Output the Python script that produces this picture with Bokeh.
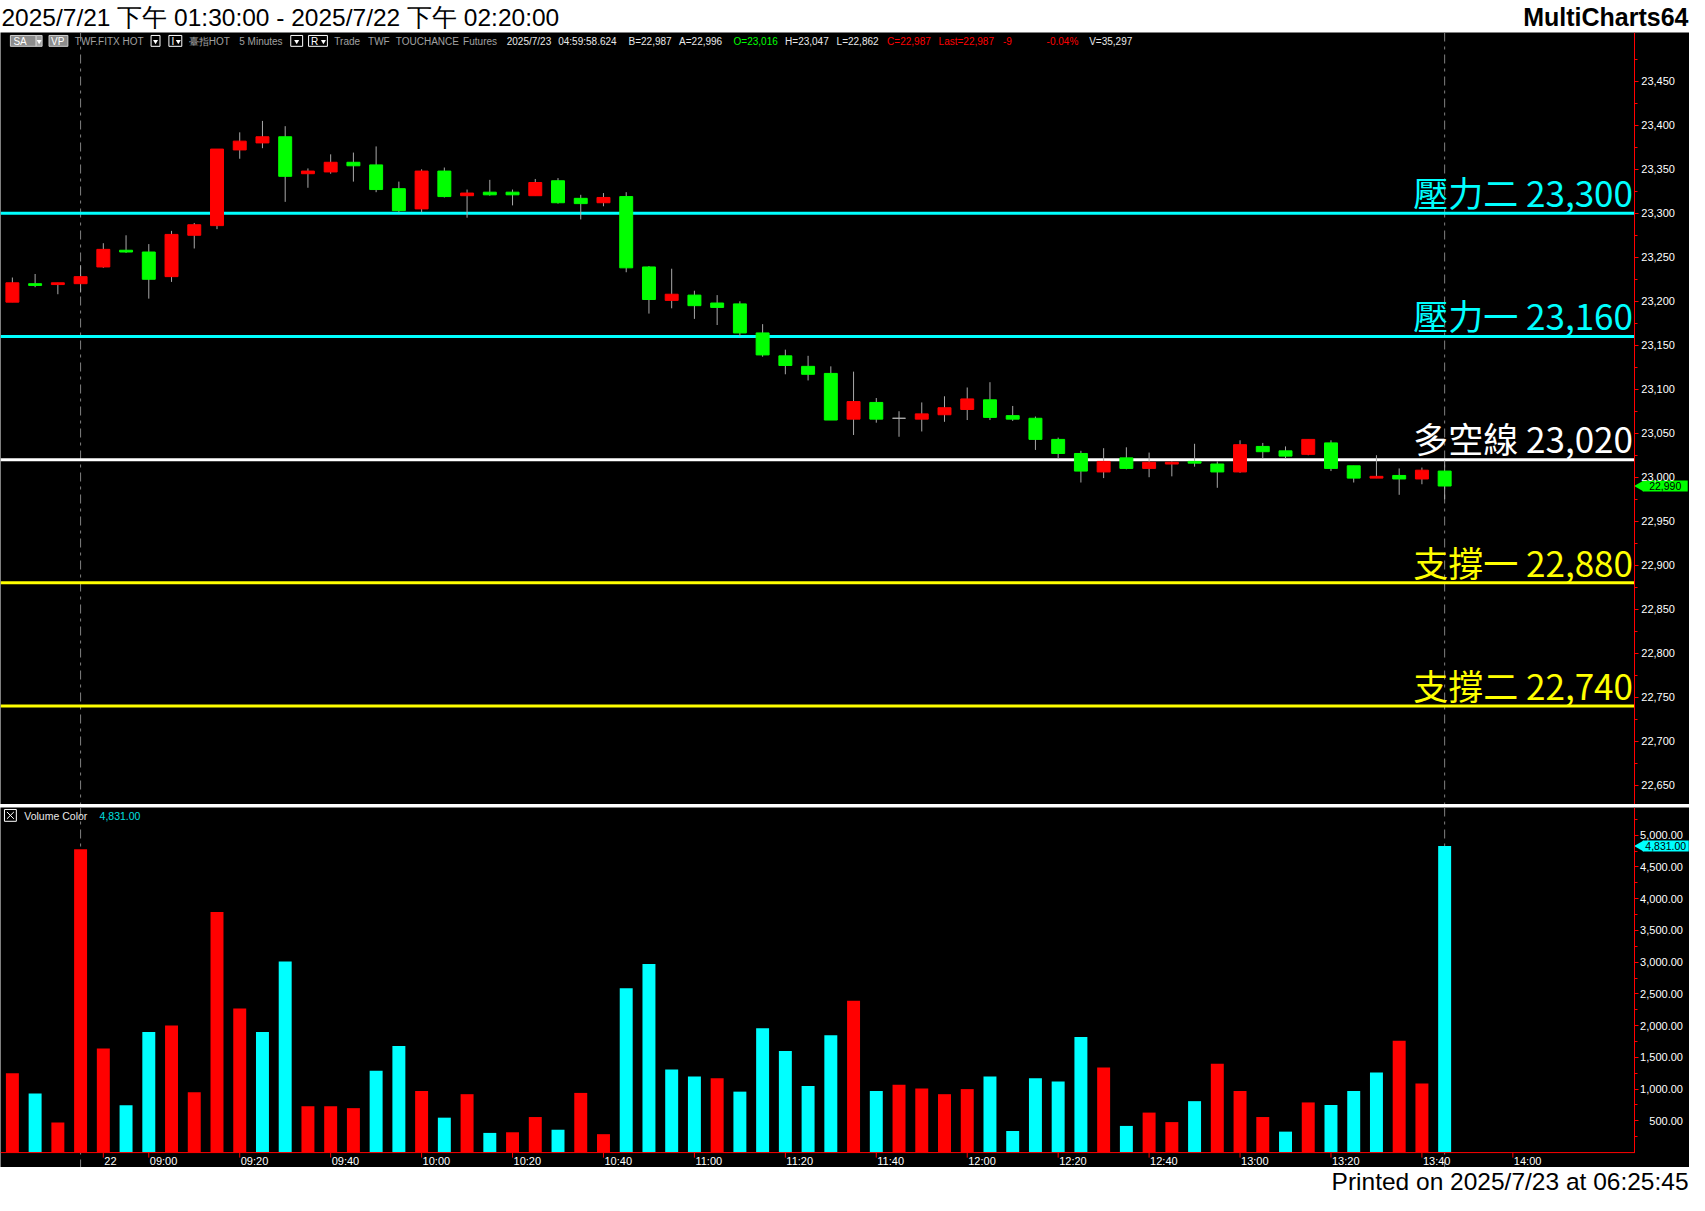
import math
from bokeh.plotting import figure
from bokeh.layouts import column
from bokeh.models import Range1d, Span, FixedTicker, NumeralTickFormatter, LinearAxis
from bokeh.core.properties import value
from bokeh.embed import file_html
from bokeh.resources import INLINE

# ---------------- data (5-minute bars, TWF.FITX HOT) ----------------
opens = [23199, 23220, 23219, 23220, 23239, 23258, 23256, 23228, 23275, 23286,
         23372, 23380, 23387, 23345, 23347, 23358, 23355, 23328, 23305, 23348,
         23320, 23324, 23324, 23320, 23337, 23317, 23312, 23319, 23239, 23201,
         23207, 23198, 23197, 23164, 23138, 23126, 23118, 23066, 23085, 23067,
         23066, 23071, 23077, 23088, 23070, 23067, 23043, 23027, 23006, 23022,
         23010, 23015, 23018, 23015, 23006, 23035, 23030, 23026, 23039, 23013,
         22999, 23002, 22998, 23007]
highs = [23227, 23231, 23221, 23241, 23266, 23275, 23265, 23280, 23289, 23373,
         23392, 23405, 23399, 23351, 23367, 23369, 23376, 23336, 23350, 23352,
         23327, 23338, 23327, 23339, 23340, 23321, 23323, 23324, 23240, 23237,
         23212, 23207, 23200, 23174, 23145, 23138, 23126, 23120, 23090, 23075,
         23085, 23092, 23102, 23108, 23081, 23069, 23045, 23030, 23033, 23034,
         23028, 23018, 23038, 23018, 23042, 23039, 23035, 23043, 23042, 23013,
         23025, 23010, 23011, 23019]
lows = [23199, 23216, 23208, 23210, 23238, 23255, 23203, 23222, 23260, 23282,
        23362, 23374, 23313, 23329, 23345, 23336, 23324, 23301, 23301, 23318,
        23295, 23320, 23309, 23320, 23311, 23293, 23308, 23233, 23186, 23192,
        23180, 23173, 23160, 23137, 23117, 23110, 23065, 23048, 23062, 23046,
        23052, 23063, 23065, 23065, 23064, 23031, 23021, 22994, 22999, 23009,
        23000, 23001, 23012, 22988, 23005, 23021, 23021, 23025, 23007, 22994,
        22999, 22980, 22992, 22975]
closes = [23221, 23218, 23221, 23228, 23259, 23256, 23225, 23276, 23287, 23373,
          23382, 23387, 23342, 23348, 23358, 23354, 23327, 23303, 23348, 23319,
          23323, 23321, 23321, 23335, 23312, 23311, 23318, 23238, 23202, 23208,
          23195, 23193, 23164, 23139, 23127, 23117, 23065, 23086, 23066, 23067,
          23072, 23079, 23089, 23068, 23066, 23043, 23027, 23007, 23018, 23010,
          23017, 23017, 23016, 23006, 23037, 23029, 23024, 23043, 23010, 22999,
          23001, 22998, 23008, 22990]
volumes = [1250, 930, 475, 4780, 1640, 745, 1900, 2000, 950, 3790,
           2270, 1900, 3010, 730, 730, 700, 1290, 1680, 970, 550,
           920, 310, 320, 560, 360, 940, 290, 2590, 2970, 1310,
           1200, 1170, 960, 1960, 1600, 1050, 1850, 2390, 970, 1070,
           1010, 920, 1000, 1200, 340, 1170, 1120, 1820, 1340, 420,
           630, 480, 810, 1400, 970, 560, 330, 790, 750, 970,
           1260, 1760, 1090, 4831]
# volume colour category per bar: R = red, C = cyan
vol_dir = list("RCRRRCCRRRRCCRRRCCRCRCRRCRRCCCCRCCCCCRCRRRRCCCCCRCRRCRRRCRCCCRRC")

level_prices = [23300, 23160, 23020, 22880, 22740]
level_names = ["壓力二", "壓力一", "多空線", "支撐一", "支撐二"]
level_colors = ["#00ffff", "#00ffff", "#ffffff", "#ffff00", "#ffff00"]

time_tick_bars = [4, 6, 10, 14, 18, 22, 26, 30, 34, 38, 42, 46, 50, 54, 58, 62, 66]
time_tick_labels = ["22", "09:00", "09:20", "09:40", "10:00", "10:20", "10:40", "11:00",
                    "11:20", "11:40", "12:00", "12:20", "12:40", "13:00", "13:20", "13:40", "14:00"]
price_ticks = [22650, 22700, 22750, 22800, 22850, 22900, 22950, 23000, 23050,
               23100, 23150, 23200, 23250, 23300, 23350, 23400, 23450]
price_minor = [22625, 22675, 22725, 22775, 22825, 22875, 22925, 22975, 23025, 23075,
               23125, 23175, 23225, 23275, 23325, 23375, 23425, 23475]
vol_ticks = [500, 1000, 1500, 2000, 2500, 3000, 3500, 4000, 4500, 5000]
vol_minor = [250, 750, 1250, 1750, 2250, 2750, 3250, 3750, 4250, 4750, 5250]
session_start_bar = 3
last_price = closes[-1]
last_volume = volumes[-1]

# ---------------- layout constants ----------------
W = 1689
XR = Range1d(-0.523, 73.77)     # frame spans the whole width
AXIS_X = 71.37                  # where the price/volume scale line sits
SANS = "Liberation Sans"
LABEL_LIFT = 24.7               # price units between a level line and the middle of its caption

n = len(opens)
idx = list(range(n))


def base_fig(height, x_range, y_range, bg):
    f = figure(width=W, height=height, x_range=x_range, y_range=y_range,
               x_axis_location=None, y_axis_location=None,
               output_backend="svg", toolbar_location=None,
               background_fill_color=bg, border_fill_color=bg,
               outline_line_color=None, min_border=0)
    f.grid.visible = False
    return f


def scale_axis(ticks, minor, fmt, standoff, bounds="auto"):
    # vertical scale drawn at AXIS_X, labels to its right
    return LinearAxis(fixed_location=AXIS_X, bounds=bounds,
                      ticker=FixedTicker(ticks=ticks, minor_ticks=minor),
                      formatter=NumeralTickFormatter(format=fmt),
                      axis_line_color="#ff0000", major_tick_line_color="#ff0000",
                      minor_tick_line_color="#ff0000", major_tick_in=4, major_tick_out=0,
                      minor_tick_in=3, minor_tick_out=0, major_label_text_color="white",
                      major_label_text_font=SANS, major_label_text_font_size="11px",
                      major_label_standoff=standoff, axis_label=" ",
                      axis_label_standoff=8, axis_label_text_font_size="1px")


# ---------------- header ----------------
head = base_fig(32, Range1d(0, 1705), Range1d(32, 0), "white")
head.text(x=[1], y=[16.5], text=["2025/7/21 下午 01:30:00 - 2025/7/22 下午 02:20:00"],
          text_color="black", text_font=value(SANS), text_font_size="24.5px",
          text_align="left", text_baseline="middle")
head.text(x=[1704], y=[16.5], text=["MultiCharts64"], text_color="black",
          text_font=value(SANS), text_font_style="bold", text_font_size="25px",
          text_align="right", text_baseline="middle")

# ---------------- price panel ----------------
p = base_fig(772, XR, Range1d(22628, 23505.5), "black")
p.extra_x_ranges = {"px": Range1d(0, 1705)}
p.extra_y_ranges = {"py": Range1d(815, 33)}

for b in (session_start_bar, n - 1):
    p.add_layout(Span(location=b, dimension="height", line_color="#808080",
                      line_width=1, line_dash="9 5 3 5", level="underlay"))

p.segment(x0=[XR.start] * len(level_prices), x1=[AXIS_X] * len(level_prices),
          y0=level_prices, y1=level_prices, line_color=level_colors, line_width=3)
p.text(x=[AXIS_X] * len(level_prices), y=[lv + LABEL_LIFT for lv in level_prices],
       text=[f"{nm} {lv:,}" for nm, lv in zip(level_names, level_prices)],
       text_color=level_colors, text_align="right", text_baseline="middle",
       x_offset=-2, text_font=value("Noto Sans CJK TC"), text_font_size="35px")

body_top = [max(o, c) for o, c in zip(opens, closes)]
body_bot = [min(o, c) for o, c in zip(opens, closes)]
ccol = ["#ff0000" if c > o else ("#00ff00" if c < o else "#b0b0b0") for o, c in zip(opens, closes)]
p.segment(x0=idx, x1=idx, y0=lows, y1=highs, line_color="#a8a8a8", line_width=1)
p.vbar(x=idx, top=body_top, bottom=body_bot, width=0.57, fill_color=ccol, line_color=ccol, line_width=1)

p.add_layout(scale_axis(price_ticks, price_minor, "0,0", -40), "left")

# last-price flag
p.scatter(x=[1655.5], y=[last_price], marker="triangle", angle=math.pi / 2, size=11,
          fill_color="#00ff00", line_color=None, x_range_name="px")
p.rect(x=[1680.5], y=[last_price], width=45, height=11, width_units="screen",
       height_units="screen", fill_color="#00ff00", line_color=None, x_range_name="px")
p.text(x=[1680.5], y=[last_price], text=[f"{last_price:,}"], text_color="black",
       text_align="center", text_baseline="middle", text_font=value(SANS),
       text_font_size="10.5px", x_range_name="px")

# status line
boxes_fill = [(10, 36, "#8c8c8c"), (36, 42, "#a0a0a0"), (49, 68, "#8c8c8c")]
p.quad(left=[b[0] for b in boxes_fill], right=[b[1] for b in boxes_fill], top=[36] * 3,
       bottom=[47] * 3, fill_color=[b[2] for b in boxes_fill], line_color="#d0d0d0",
       x_range_name="px", y_range_name="py")
boxes_out = [(152, 161), (170, 183), (293, 305), (311, 330)]
p.quad(left=[b[0] for b in boxes_out], right=[b[1] for b in boxes_out], top=[36] * 4,
       bottom=[47] * 4, fill_color="black", line_color="white",
       x_range_name="px", y_range_name="py")
p.scatter(x=[39, 156.5, 179.5, 299, 326], y=[42] * 5, marker="inverted_triangle", size=5,
          fill_color="white", line_color=None, x_range_name="px", y_range_name="py")
status = [("SA", 13, "white"), ("VP", 51, "white"), ("TWF.FITX HOT", 75, "#a0a0a0"),
          ("I", 172.5, "white"), ("臺指HOT", 190, "#a0a0a0"), ("5 Minutes", 241, "#a0a0a0"),
          ("R", 313.5, "white"), ("Trade", 337, "#a0a0a0"), ("TWF", 371, "#a0a0a0"),
          ("TOUCHANCE", 399, "#a0a0a0"), ("Futures", 467, "#a0a0a0"),
          ("2025/7/23", 511, "#e8e8e8"), ("04:59:58.624", 563, "#e8e8e8"),
          ("B=22,987", 634, "#e8e8e8"), ("A=22,996", 685, "#e8e8e8"),
          ("O=23,016", 740, "#00ff00"), ("H=23,047", 792, "#e8e8e8"),
          ("L=22,862", 844, "#e8e8e8"), ("C=22,987", 895, "#ff0000"),
          ("Last=22,987", 947, "#ff0000"), ("-9", 1012, "#ff0000"),
          ("-0.04%", 1056, "#ff0000"), ("V=35,297", 1099, "#e8e8e8")]
p.text(x=[s[1] for s in status], y=[42] * len(status), text=[s[0] for s in status],
       text_color=[s[2] for s in status], text_align="left", text_baseline="middle",
       text_font=value(SANS), text_font_size="10px", x_range_name="px", y_range_name="py")

# ---------------- separator ----------------
sep = base_fig(3, Range1d(0, 1), Range1d(0, 1), "#c4c4c4")

# ---------------- volume panel ----------------
v = base_fig(360, XR, Range1d(-235, 5436), "black")
v.extra_x_ranges = {"px": Range1d(0, 1705)}
v.extra_y_ranges = {"py": Range1d(1183, 818)}

for b in (session_start_bar, n - 1):
    v.add_layout(Span(location=b, dimension="height", line_color="#808080",
                      line_width=1, line_dash="9 5 3 5", level="underlay"))
vcol = ["#ff0000" if d == "R" else "#00ffff" for d in vol_dir]
v.vbar(x=idx, top=volumes, bottom=0, width=0.57, fill_color=vcol, line_color=None)
v.segment(x0=[XR.start], x1=[AXIS_X], y0=[0], y1=[0], line_color="#ff0000", line_width=1)

v.add_layout(scale_axis(vol_ticks, vol_minor, "0,0.00", -48, bounds=(0, 5436)), "left")

v.segment(x0=time_tick_bars, x1=time_tick_bars, y0=[1168] * len(time_tick_bars),
          y1=[1173] * len(time_tick_bars), line_color="#ff0000", y_range_name="py")
v.text(x=time_tick_bars, y=[1176] * len(time_tick_bars), text=time_tick_labels,
       text_color="white", text_align="left", text_baseline="middle", x_offset=1,
       text_font=value(SANS), text_font_size="11px", y_range_name="py")

# last-volume flag
v.scatter(x=[1655.5], y=[last_volume], marker="triangle", angle=math.pi / 2, size=11,
          fill_color="#00ffff", line_color=None, x_range_name="px")
v.rect(x=[1681], y=[last_volume], width=46, height=11, width_units="screen",
       height_units="screen", fill_color="#00ffff", line_color=None, x_range_name="px")
v.text(x=[1681], y=[last_volume], text=[f"{last_volume:,.2f}"], text_color="black",
       text_align="center", text_baseline="middle", text_font=value(SANS),
       text_font_size="10.5px", x_range_name="px")

v.quad(left=[4], right=[16], top=[820], bottom=[832], fill_color="black", line_color="white",
       x_range_name="px", y_range_name="py")
v.segment(x0=[6.5, 6.5], x1=[13.5, 13.5], y0=[822.5, 829.5], y1=[829.5, 822.5],
          line_color="white", x_range_name="px", y_range_name="py")
v.text(x=[24, 100], y=[826.5, 826.5], text=["Volume Color", f"{last_volume:,.2f}"],
       text_color=["#e8e8e8", "#00e0e0"], text_align="left", text_baseline="middle",
       text_font=value(SANS), text_font_size="10.5px", x_range_name="px", y_range_name="py")

# ---------------- footer ----------------
foot = base_fig(28, Range1d(0, 1705), Range1d(1211, 1183), "white")
foot.text(x=[1704], y=[1197], text=["Printed on 2025/7/23 at 06:25:45"], text_color="black",
          text_font=value(SANS), text_font_size="24.5px", text_align="right",
          text_baseline="middle")

layout = column(head, p, sep, v, foot, spacing=0)
open("out.html", "w").write(file_html(layout, INLINE))
